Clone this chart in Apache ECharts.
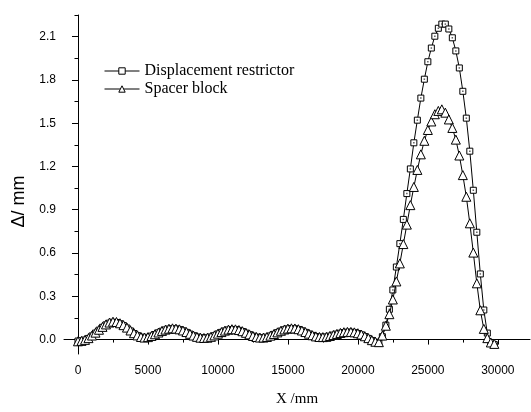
<!DOCTYPE html>
<html>
<head>
<meta charset="utf-8">
<script src="https://cdn.jsdelivr.net/npm/echarts@6/dist/echarts.min.js"></script>
<style>
html,body{margin:0;padding:0;background:#fff;}
#chart{width:531px;height:412px;}
</style>
</head>
<body>
<div id="chart"></div>
<script>
const xValues = [
  0,250,500,750,1000,1250,1500,1750,2000,2250,2500,2750,3000,3250,3500,3750,4000,4250,4500,4750,
  5000,5250,5500,5750,6000,6250,6500,6750,7000,7250,7500,7750,8000,8250,8500,8750,9000,9250,9500,9750,
  10000,10250,10500,10750,11000,11250,11500,11750,12000,12250,12500,12750,13000,13250,13500,13750,14000,14250,14500,14750,
  15000,15250,15500,15750,16000,16250,16500,16750,17000,17250,17500,17750,18000,18250,18500,18750,19000,19250,19500,19750,
  20000,20250,20500,20750,21000,21250,21500,21750,22000,22250,22500,22750,23000,23250,23500,23750,24000,24250,24500,24750,
  25000,25250,25500,25750,26000,26250,26500,26750,27000,27250,27500,27750,28000,28250,28500,28750,29000,29250,29500,29750
];
const restrictorValues = [
  -0.01,-0.008,-0.003,0.008,0.025,0.045,0.065,0.085,0.102,0.114,0.12,0.118,0.11,0.097,0.08,0.06,0.042,0.027,0.017,0.013,
  0.016,0.024,0.035,0.047,0.058,0.067,0.073,0.075,0.074,0.069,0.061,0.05,0.038,0.027,0.018,0.012,0.01,
  0.012,0.018,0.027,0.039,0.05,0.06,0.067,0.07,0.069,0.064,0.056,0.045,0.034,0.024,0.017,0.013,0.013,
  0.017,0.025,0.036,0.048,0.059,0.068,0.074,0.076,0.075,0.07,0.061,0.05,0.039,0.029,0.021,0.017,0.016,
  0.018,0.024,0.031,0.038,0.044,0.049,0.051,0.051,0.048,0.042,0.033,0.021,0.008,-0.006,-0.018,-0.025,
  0.02,0.1,0.21,0.344,0.503,0.665,0.833,1.012,1.183,1.364,
  1.521,1.674,1.805,1.926,2.021,2.103,2.158,2.187,2.187,2.153,
  2.092,2.001,1.883,1.721,1.535,1.306,1.035,0.744,0.455,0.205,
  0.045,-0.02,-0.035
];
const spacerValues = [
  -0.012,-0.009,-0.002,0.01,0.028,0.048,0.068,0.088,0.105,0.118,0.124,0.122,0.113,0.1,0.083,0.063,0.044,0.029,0.018,0.014,
  0.017,0.025,0.037,0.049,0.06,0.069,0.075,0.078,0.076,0.071,0.063,0.052,0.04,0.028,0.019,0.013,0.011,
  0.013,0.019,0.029,0.041,0.052,0.062,0.069,0.072,0.071,0.066,0.058,0.047,0.036,0.025,0.018,0.014,0.014,
  0.018,0.027,0.038,0.05,0.061,0.07,0.076,0.078,0.077,0.072,0.063,0.052,0.041,0.03,0.022,0.018,0.017,
  0.019,0.025,0.032,0.039,0.046,0.051,0.053,0.053,0.05,0.044,0.035,0.023,0.01,-0.004,-0.015,-0.018,
  0.028,0.096,0.176,0.278,0.403,0.528,0.662,0.797,0.932,1.058,
  1.176,1.284,1.378,1.453,1.512,1.562,1.585,1.596,1.573,1.526,
  1.467,1.386,1.276,1.14,0.99,0.806,0.603,0.39,0.203,0.074,
  0.01,-0.02,-0.03
];
const xMajorTicks = [0,5000,10000,15000,20000,25000,30000];
const xMinorTicks = [2500,7500,12500,17500,22500,27500];
const yMajorTicks = [0,0.3,0.6,0.9,1.2,1.5,1.8,2.1];
const yMinorTicks = [0.15,0.45,0.75,1.05,1.35,1.65,1.95,2.25];
const seriesNames = ['Displacement restrictor','Spacer block'];

const pairs = (ys) => xValues.map((x, i) => [x, ys[i]]);
const X_MIN = -1000, X_MAX = 32300, Y_MIN = -0.1, Y_MAX = 2.25;
const sans = 'Liberation Sans, Arial, sans-serif';
const serif = 'Liberation Serif, Times New Roman, serif';
const tickFont = {fontFamily: sans, fontSize: 12, color: '#000'};

const chart = echarts.init(document.getElementById('chart'), null, {renderer: 'canvas'});
chart.setOption({
  animation: false,
  backgroundColor: '#fff',
  grid: {left: 64, right: 1, top: 15, bottom: 52, containLabel: false},
  legend: {
    data: seriesNames,
    orient: 'vertical',
    left: 99,
    top: 58,
    itemWidth: 35,
    itemHeight: 8,
    itemGap: 2,
    lineStyle: {color: '#000', width: 1},
    itemStyle: {color: '#fff', borderColor: '#000', borderWidth: 1},
    textStyle: {fontFamily: serif, fontSize: 16, color: '#000'}
  },
  xAxis: [{
    type: 'value', min: X_MIN, max: X_MAX,
    name: 'X /mm', nameLocation: 'middle', nameGap: 38,
    nameTextStyle: {fontFamily: serif, fontSize: 15, color: '#000'},
    axisLine: {show: true, lineStyle: {color: '#000', width: 1}},
    axisTick: {show: true, length: 5, inside: false, customValues: xMajorTicks, lineStyle: {color: '#000'}},
    axisLabel: {show: true, margin: 11, customValues: xMajorTicks, formatter: (v) => String(v), ...tickFont},
    splitLine: {show: false}
  }, {
    type: 'value', min: X_MIN, max: X_MAX, position: 'bottom',
    axisLine: {show: false},
    axisTick: {show: true, length: 3, inside: false, customValues: xMinorTicks, lineStyle: {color: '#000'}},
    axisLabel: {show: false},
    splitLine: {show: false}
  }],
  yAxis: [{
    type: 'value', min: Y_MIN, max: Y_MAX,
    name: 'Δ/ mm', nameLocation: 'middle', nameGap: 35, nameRotate: 90,
    nameTextStyle: {fontFamily: sans, fontSize: 18, color: '#000', padding: [0, 34, 0, 0]},
    axisLine: {show: true, lineStyle: {color: '#000', width: 1}},
    axisTick: {show: true, length: 6, inside: false, customValues: yMajorTicks, lineStyle: {color: '#000'}},
    axisLabel: {show: true, margin: 8, customValues: yMajorTicks, formatter: (v) => v.toFixed(1), ...tickFont},
    splitLine: {show: false}
  }, {
    type: 'value', min: Y_MIN, max: Y_MAX, position: 'left',
    axisLine: {show: false},
    axisTick: {show: true, length: 3.5, inside: false, customValues: yMinorTicks, lineStyle: {color: '#000'}},
    axisLabel: {show: false},
    splitLine: {show: false}
  }],
  series: [{
    name: seriesNames[0], type: 'line', data: pairs(restrictorValues),
    symbol: 'rect', symbolSize: 6, z: 2,
    lineStyle: {color: '#000', width: 1},
    itemStyle: {color: '#fff', borderColor: '#000', borderWidth: 1},
    emphasis: {disabled: true}
  }, {
    name: 'dots', type: 'scatter', data: pairs(restrictorValues),
    symbol: 'rect', symbolSize: 1.5, z: 3, silent: true,
    itemStyle: {color: '#333'}
  }, {
    name: seriesNames[1], type: 'line', data: pairs(spacerValues),
    symbol: 'triangle', symbolSize: 9, z: 4,
    lineStyle: {color: '#000', width: 1},
    itemStyle: {color: '#fff', borderColor: '#000', borderWidth: 1},
    emphasis: {disabled: true}
  }]
});
</script>
</body>
</html>
